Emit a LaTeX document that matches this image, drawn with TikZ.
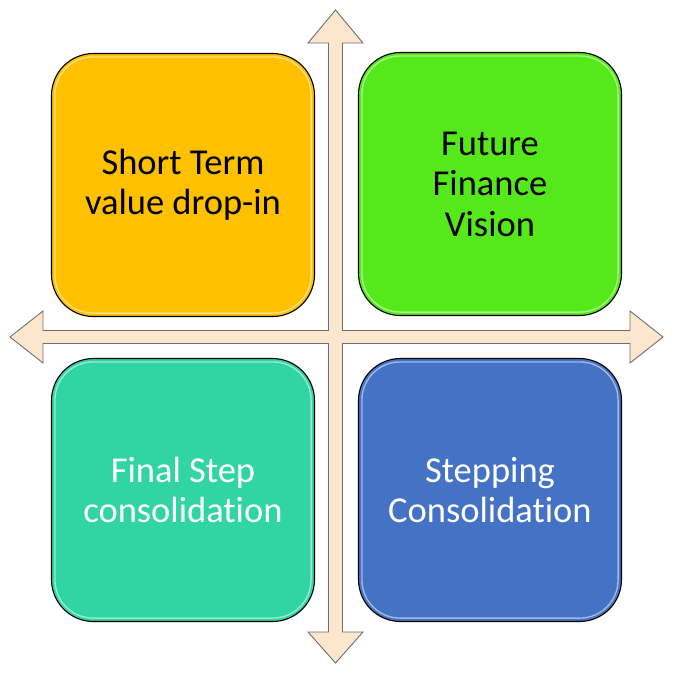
\documentclass[tikz,border=0pt]{standalone}
\usepackage{fontspec}
\setmainfont[RawFeature={-liga;-clig;-calt;-dlig}]{Carlito}
\definecolor{boxyellow}{HTML}{FFC000}
\definecolor{boxgreen}{HTML}{55E81A}
\definecolor{boxteal}{HTML}{30D5A3}
\definecolor{boxblue}{HTML}{4472C4}
\definecolor{arrowfill}{HTML}{FDE6CE}
\definecolor{arrowline}{HTML}{6E6E6E}
\begin{document}
\begin{tikzpicture}[x=1pt,y=-1pt,
  quad/.style={minimum width=263pt,minimum height=263pt,rounded corners=42pt,draw=black,line width=1.1pt,
    font=\fontsize{36.5}{40.5}\selectfont,align=center,inner sep=0pt},
  gloss/.style={draw=white,line width=1.4pt,opacity=0.5,rounded corners=38pt}]
\useasboundingbox (0,0) rectangle (674,673);
% quad arrow
\draw[fill=arrowfill,draw=arrowline,line width=0.9pt,line join=miter]
  (335.5,10) -- (363,43) -- (342.5,43) -- (342.5,330.5) -- (630,330.5) -- (630,311) -- (663,337)
  -- (630,363) -- (630,343.5) -- (342.5,343.5) -- (342.5,632) -- (363,632) -- (335.5,663)
  -- (308,632) -- (328.5,632) -- (328.5,343.5) -- (43,343.5) -- (43,363) -- (10,337)
  -- (43,311) -- (43,330.5) -- (328.5,330.5) -- (328.5,43) -- (308,43) -- cycle;
% boxes
\node[quad,fill=boxyellow,text=black] (st) at (183,185) {Short Term\\value drop-in};
\node[quad,fill=boxgreen,text=black] (ff) at (490,184) {Future\\Finance\\Vision};
\node[quad,fill=boxteal,text=white] (fs) at (183,490) {Final Step\\consolidation};
\node[quad,fill=boxblue,text=white] (sc) at (490,490) {Stepping\\Consolidation};
% gloss highlights
\foreach \n in {st,ff,fs,sc}{
  \draw[gloss] ([xshift=4pt,yshift=-4pt]\n.north west) rectangle ([xshift=-4pt,yshift=4pt]\n.south east);
}
\end{tikzpicture}
\end{document}
